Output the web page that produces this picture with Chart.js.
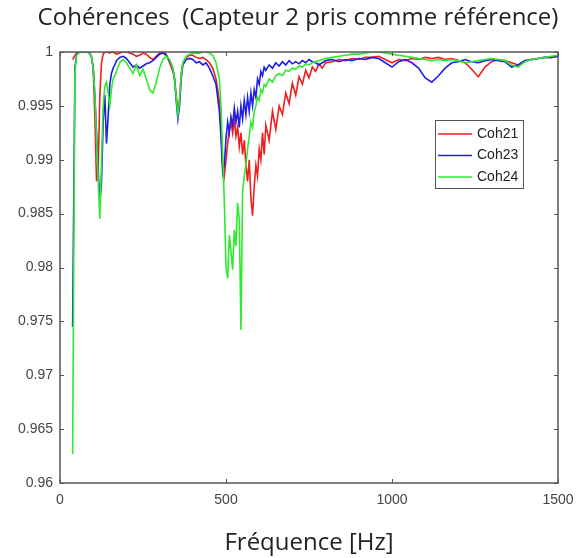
<!DOCTYPE html>
<html>
<head>
<meta charset="utf-8">
<script src="https://cdn.jsdelivr.net/npm/chart.js@4"></script>
<style>
    body { margin: 0; background: #fff; }
</style>
</head>
<body>
<canvas id="cohChart" width="578" height="558"></canvas>
<script>
const freqs = [
    38, 45, 50, 60, 70, 80, 90, 95, 100, 105,
    110, 115, 120, 125, 130, 135, 140, 145, 150, 155,
    160, 165, 170, 180, 190, 200, 210, 220, 230, 240,
    250, 260, 270, 280, 290, 300, 310, 320, 330, 340,
    345, 350, 355, 360, 365, 370, 380, 390, 400, 410,
    420, 430, 440, 450, 460, 470, 480, 485, 490, 495,
    500, 505, 510, 515, 520, 525, 530, 535, 540, 545,
    550, 555, 560, 565, 570, 575, 580, 585, 590, 595,
    600, 605, 610, 615, 620, 630, 640, 650, 660, 670,
    680, 690, 700, 710, 720, 730, 740, 750, 760, 770,
    780, 790, 800, 820, 840, 860, 880, 900, 920, 940,
    960, 980, 1000, 1020, 1040, 1060, 1080, 1100, 1120, 1140,
    1160, 1180, 1200, 1220, 1240, 1260, 1280, 1300, 1320, 1340,
    1360, 1380, 1400, 1420, 1440, 1460, 1480, 1500
];

const coh21 = [
    0.9993, 0.9997, 0.9999, 1.0000, 1.0000, 1.0000, 0.9999, 0.9995, 0.9985, 0.9940,
    0.9880, 0.9890, 0.9960, 0.9990, 0.9998, 1.0000, 1.0000, 1.0000, 0.9999, 1.0000,
    1.0000, 0.9999, 0.9998, 0.9999, 1.0000, 1.0000, 0.9999, 0.9998, 0.9996, 0.9997,
    0.9999, 0.9998, 0.9995, 0.9993, 0.9996, 0.9999, 1.0000, 0.9998, 0.9990, 0.9982,
    0.9975, 0.9960, 0.9945, 0.9955, 0.9980, 0.9990, 0.9995, 0.9997, 0.9997, 0.9995,
    0.9994, 0.9995, 0.9993, 0.9990, 0.9985, 0.9975, 0.9955, 0.9930, 0.9895, 0.9885,
    0.9900, 0.9915, 0.9928, 0.9935, 0.9925, 0.9938, 0.9922, 0.9930, 0.9912, 0.9925,
    0.9905, 0.9918, 0.9895, 0.9880, 0.9900, 0.9865, 0.9848, 0.9875, 0.9895, 0.9885,
    0.9910, 0.9900, 0.9925, 0.9905, 0.9932, 0.9918, 0.9945, 0.9928, 0.9950, 0.9942,
    0.9962, 0.9952, 0.9971, 0.9960, 0.9977, 0.9970, 0.9983, 0.9976, 0.9986, 0.9982,
    0.9989, 0.9985, 0.9990, 0.9991, 0.9993, 0.9992, 0.9994, 0.9993, 0.9995, 0.9995,
    0.9996, 0.9993, 0.9990, 0.9993, 0.9992, 0.9994, 0.9993, 0.9995, 0.9994, 0.9995,
    0.9993, 0.9994, 0.9992, 0.9990, 0.9984, 0.9977, 0.9986, 0.9991, 0.9993, 0.9992,
    0.9990, 0.9988, 0.9991, 0.9993, 0.9994, 0.9995, 0.9995, 0.9996
];

const coh23 = [
    0.9745, 0.9985, 0.9998, 1.0000, 1.0000, 1.0000, 0.9999, 0.9995, 0.9985, 0.9960,
    0.9925, 0.9890, 0.9860, 0.9880, 0.9935, 0.9960, 0.9915, 0.9940, 0.9970, 0.9980,
    0.9985, 0.9988, 0.9992, 0.9995, 0.9996, 0.9994, 0.9990, 0.9986, 0.9988, 0.9985,
    0.9987, 0.9989, 0.9990, 0.9992, 0.9995, 0.9998, 0.9999, 0.9997, 0.9992, 0.9985,
    0.9975, 0.9955, 0.9938, 0.9950, 0.9975, 0.9988, 0.9993, 0.9994, 0.9993, 0.9990,
    0.9991, 0.9988, 0.9990, 0.9985, 0.9978, 0.9970, 0.9945, 0.9920, 0.9888, 0.9895,
    0.9920, 0.9935, 0.9925, 0.9940, 0.9932, 0.9948, 0.9935, 0.9945, 0.9930, 0.9950,
    0.9938, 0.9955, 0.9942, 0.9958, 0.9945, 0.9962, 0.9950, 0.9965, 0.9958, 0.9975,
    0.9970, 0.9982, 0.9978, 0.9986, 0.9983, 0.9988, 0.9985, 0.9990, 0.9987, 0.9991,
    0.9988, 0.9992, 0.9989, 0.9991, 0.9989, 0.9992, 0.9990, 0.9993, 0.9991, 0.9990,
    0.9988, 0.9990, 0.9992, 0.9993, 0.9991, 0.9993, 0.9992, 0.9994, 0.9993, 0.9995,
    0.9994, 0.9990, 0.9986, 0.9991, 0.9993, 0.9990, 0.9985, 0.9976, 0.9972, 0.9978,
    0.9985, 0.9990, 0.9991, 0.9993, 0.9991, 0.9990, 0.9992, 0.9993, 0.9992, 0.9991,
    0.9986, 0.9988, 0.9992, 0.9993, 0.9994, 0.9995, 0.9995, 0.9996
];

const coh24 = [
    0.9627, 0.9980, 0.9997, 1.0000, 1.0000, 1.0000, 0.9999, 0.9995, 0.9985, 0.9960,
    0.9920, 0.9880, 0.9845, 0.9900, 0.9950, 0.9968, 0.9972, 0.9962, 0.9950, 0.9965,
    0.9975, 0.9978, 0.9982, 0.9990, 0.9993, 0.9990, 0.9985, 0.9980, 0.9988, 0.9978,
    0.9984, 0.9975, 0.9965, 0.9962, 0.9972, 0.9985, 0.9993, 0.9996, 0.9993, 0.9985,
    0.9975, 0.9958, 0.9942, 0.9955, 0.9978, 0.9990, 0.9996, 0.9998, 0.9999, 0.9999,
    0.9999, 1.0000, 1.0000, 0.9999, 0.9997, 0.9990, 0.9975, 0.9950, 0.9905, 0.9860,
    0.9800, 0.9790, 0.9830, 0.9815, 0.9798, 0.9835, 0.9820, 0.9860, 0.9845, 0.9742,
    0.9870, 0.9885, 0.9895, 0.9910, 0.9922, 0.9935, 0.9930, 0.9945, 0.9950, 0.9958,
    0.9955, 0.9965, 0.9962, 0.9970, 0.9968, 0.9975, 0.9972, 0.9978, 0.9980, 0.9978,
    0.9983, 0.9982, 0.9985, 0.9984, 0.9987, 0.9986, 0.9989, 0.9988, 0.9990, 0.9991,
    0.9992, 0.9993, 0.9994, 0.9995, 0.9996, 0.9997, 0.9998, 0.9998, 0.9999, 1.0000,
    1.0000, 0.9999, 0.9998, 0.9997, 0.9996, 0.9995, 0.9994, 0.9993, 0.9992, 0.9993,
    0.9992, 0.9993, 0.9992, 0.9990, 0.9991, 0.9992, 0.9993, 0.9994, 0.9993, 0.9992,
    0.9988, 0.9986, 0.9991, 0.9993, 0.9994, 0.9995, 0.9996, 0.9997
];

const seriesNames = ["Coh21", "Coh23", "Coh24"];
const seriesColors = ["#f01e1e", "#1e1ee6", "#2eea2e"];
const xTickValues = [0, 500, 1000, 1500];
const yTickValues = [0.96, 0.965, 0.97, 0.975, 0.98, 0.985, 0.99, 0.995, 1];
const chartTitle = "Cohérences  (Capteur 2 pris comme référence)";

function toPoints(values) {
    return freqs.map(function (f, i) {
        return { x: f, y: values[i] };
    });
}

// MATLAB style box with inward ticks, legend inside the axes, and the title
const boxPlugin = {
    id: "matlabBox",
    afterDatasetsDraw: function (chart) {
        const ctx = chart.ctx;
        const area = chart.chartArea;
        const xs = chart.scales.x;
        const ys = chart.scales.y;
        ctx.save();
        ctx.lineWidth = 1.5;
        ctx.strokeStyle = "#555";
        ctx.strokeRect(area.left, area.top, area.right - area.left, area.bottom - area.top);

        ctx.lineWidth = 1;
        ctx.beginPath();
        xTickValues.forEach(function (v) {
            const px = Math.round(xs.getPixelForValue(v)) + 0.5;
            ctx.moveTo(px, area.bottom);
            ctx.lineTo(px, area.bottom - 4);
            ctx.moveTo(px, area.top);
            ctx.lineTo(px, area.top + 4);
        });
        yTickValues.forEach(function (v) {
            const py = Math.round(ys.getPixelForValue(v)) + 0.5;
            ctx.moveTo(area.left, py);
            ctx.lineTo(area.left + 4, py);
            ctx.moveTo(area.right, py);
            ctx.lineTo(area.right - 4, py);
        });
        ctx.stroke();

        // legend
        const lx = area.right - 123;
        const ly = area.top + 68;
        ctx.fillStyle = "#fff";
        ctx.fillRect(lx, ly, 88, 68);
        ctx.strokeStyle = "#555";
        ctx.lineWidth = 1;
        ctx.strokeRect(lx + 0.5, ly + 0.5, 88, 68);
        ctx.font = "14px 'Liberation Sans', Arial, sans-serif";
        ctx.textBaseline = "middle";
        seriesNames.forEach(function (name, i) {
            const y = ly + 14 + i * 21.5;
            ctx.strokeStyle = seriesColors[i];
            ctx.lineWidth = 1.6;
            ctx.beginPath();
            ctx.moveTo(lx + 3, y);
            ctx.lineTo(lx + 37, y);
            ctx.stroke();
            ctx.fillStyle = "#222";
            ctx.fillText(name, lx + 42, y);
        });

        // title (slightly right of canvas centre, as in the original figure)
        ctx.font = "24px 'Open Sans', sans-serif";
        ctx.fillStyle = "#222";
        ctx.textAlign = "center";
        ctx.fillText(chartTitle, 298, 18);
        ctx.restore();
    }
};

const datasets = [coh21, coh23, coh24].map(function (values, i) {
    return {
        label: seriesNames[i],
        data: toPoints(values),
        borderColor: seriesColors[i],
        borderWidth: 1.6,
        pointRadius: 0,
        tension: 0,
        fill: false,
        order: 3 - i,
    };
});

new Chart(document.getElementById("cohChart"), {
    type: "line",
    data: { datasets: datasets },
    options: {
        responsive: false,
        animation: false,
        layout: {
            padding: { left: 0, right: 20, top: 52, bottom: 0 },
        },
        plugins: {
            legend: { display: false },
            tooltip: { enabled: false },
            title: { display: false },
        },
        scales: {
            x: {
                type: "linear",
                min: 0,
                max: 1500,
                afterBuildTicks: function (scale) {
                    scale.ticks = xTickValues.map(function (v) { return { value: v }; });
                },
                afterFit: function (scale) {
                    scale.height = 75;
                    scale.paddingLeft = 0;
                    scale.paddingRight = 0;
                },
                grid: { display: false, drawTicks: false },
                border: { display: false },
                ticks: {
                    color: "#444",
                    padding: 9,
                    maxRotation: 0,
                    font: { family: "'Liberation Sans', Arial, sans-serif", size: 14 },
                    callback: function (value) {
                        return String(value);
                    },
                },
                title: {
                    display: true,
                    text: "Fréquence [Hz]",
                    color: "#222",
                    font: { family: "'Open Sans', sans-serif", size: 24 },
                    padding: { top: 9, bottom: 0 },
                },
            },
            y: {
                type: "linear",
                min: 0.96,
                max: 1,
                afterBuildTicks: function (scale) {
                    scale.ticks = yTickValues.map(function (v) { return { value: v }; });
                },
                afterFit: function (scale) {
                    scale.width = 60;
                    scale.paddingTop = 0;
                    scale.paddingBottom = 0;
                },
                grid: { display: false, drawTicks: false },
                border: { display: false },
                ticks: {
                    color: "#444",
                    padding: 7,
                    font: { family: "'Liberation Sans', Arial, sans-serif", size: 14 },
                    callback: function (value) {
                        return String(Number(value.toFixed(3)));
                    },
                },
            },
        },
    },
    plugins: [boxPlugin],
});
</script>
</body>
</html>
